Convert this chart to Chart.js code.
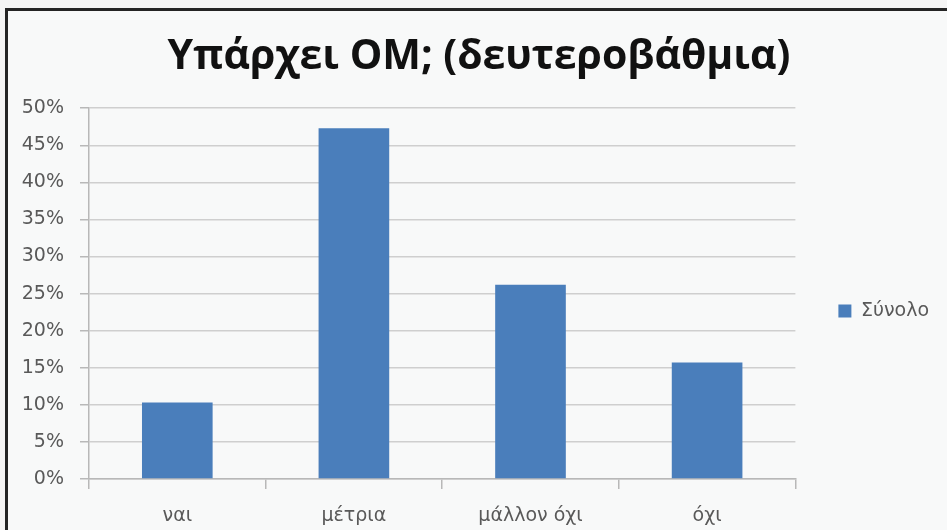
<!DOCTYPE html>
<html>
<head>
<meta charset="utf-8">
<script src="https://cdn.jsdelivr.net/npm/chart.js@4"></script>
<style>
  html, body { margin: 0; padding: 0; background: #f4f4f4; }
  #wrap { position: relative; width: 947px; height: 530px; overflow: hidden; }
  #frame {
    position: absolute; left: 5px; top: 8px; width: 960px; height: 540px;
    border-left: 3px solid #242424; border-top: 3px solid #242424;
    background: #f8f9f9;
  }
  canvas { position: absolute; left: 0; top: 0; }
</style>
</head>
<body>
<div id="wrap">
  <div id="frame"></div>
  <canvas id="chart" width="947" height="530"></canvas>
</div>
<script>
// Υπάρχει ΟΜ; — κατανομή απαντήσεων στη δευτεροβάθμια
const categories = ['ναι', 'μέτρια', 'μάλλον όχι', 'όχι'];
const seriesName = 'Σύνολο';
const shares = [10.3, 47.3, 26.2, 15.7];   // ποσοστό %
const axisMax = 50;
const axisStep = 5;

const labelGray = '#595959';
const gridGray = '#cfcfcf';
const axisGray = '#b8b8b8';
const barBlue = '#4a7ebb';
const titleFont = '"Open Sans", "DejaVu Sans", sans-serif';
const labelFont = '"DejaVu Sans", "Open Sans", sans-serif';
const labelSpacing = '2px';

// Small labels are drawn letter-spaced; the title is not.
const spacingPlugin = {
  id: 'labelSpacing',
  beforeInit(chart) {
    chart.ctx.letterSpacing = labelSpacing;
  },
  afterLayout(chart) {
    const block = chart.titleBlock;
    if (block && !block._spacingWrapped) {
      const draw = block.draw.bind(block);
      block.draw = function () {
        const ctx = chart.ctx;
        const prev = ctx.letterSpacing;
        ctx.letterSpacing = '0px';
        draw();
        ctx.letterSpacing = prev;
      };
      block._spacingWrapped = true;
    }
  }
};

new Chart(document.getElementById('chart'), {
  type: 'bar',
  data: {
    labels: categories,
    datasets: [{
      label: seriesName,
      data: shares,
      backgroundColor: barBlue,
      borderWidth: 0,
      barPercentage: 0.4,
      categoryPercentage: 1.0
    }]
  },
  plugins: [spacingPlugin],
  options: {
    responsive: false,
    animation: false,
    layout: { padding: { top: 0, left: 19, right: 8, bottom: 0 } },
    plugins: {
      title: {
        display: true,
        text: 'Υπάρχει ΟΜ; (δευτεροβάθμια)',
        color: '#111111',
        font: { family: titleFont, size: 41, weight: '700' },
        padding: { top: 33, bottom: 26 }
      },
      legend: {
        position: 'right',
        // empty legend title only lowers the single entry to mid-plot height
        title: { display: true, text: '', font: { size: 10 }, padding: { top: 80, bottom: 0 } },
        labels: {
          boxWidth: 13,
          boxHeight: 13,
          color: labelGray,
          font: { family: labelFont, size: 19 },
          padding: 43
        }
      },
      tooltip: { enabled: false }
    },
    scales: {
      x: {
        offset: true,
        afterFit(scale) { scale.height = 51; },
        grid: {
          offset: true,
          drawOnChartArea: false,
          drawTicks: true,
          tickLength: 10,
          color: axisGray,
          lineWidth: 1.5
        },
        border: { display: true, color: axisGray, width: 1.5 },
        ticks: {
          color: labelGray,
          font: { family: labelFont, size: 19 },
          padding: 16
        }
      },
      y: {
        min: 0,
        max: axisMax,
        afterFit(scale) { scale.width = 70; },
        grid: {
          color: gridGray,
          lineWidth: 1.5,
          drawTicks: true,
          tickLength: 9,
          tickColor: axisGray
        },
        border: { display: true, color: axisGray, width: 1.5 },
        ticks: {
          stepSize: axisStep,
          color: labelGray,
          font: { family: labelFont, size: 19 },
          padding: 16,
          callback: v => v + '%'
        }
      }
    }
  }
});
</script>
</body>
</html>
